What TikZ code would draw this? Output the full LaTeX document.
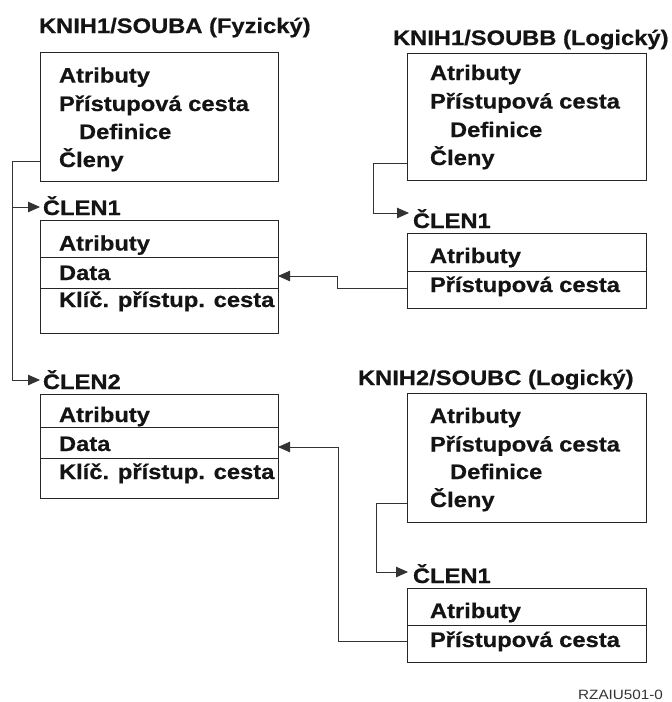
\documentclass[tikz,border=0pt]{standalone}
\usepackage{fontspec}
\setmainfont{Liberation Sans}[FakeStretch=1.13, BoldFeatures={FakeBold=0.6}]
\usetikzlibrary{arrows.meta}
\begin{document}
\begin{tikzpicture}[x=1pt,y=-1pt,
  frame/.style={draw=black!85, line width=0.9pt, anchor=north west,
    inner sep=0pt, outer sep=0pt},
  rule/.style={draw=black!85, line width=0.9pt},
  lbl/.style={anchor=base west, inner sep=0pt, outer sep=0pt,
    font=\fontsize{21}{21}\selectfont\bfseries, text=black!92},
  link/.style={draw=black!80, line width=0.9pt},
  tip/.style={-{Triangle[length=12pt,width=10.5pt]}},
  tag/.style={anchor=base west, inner sep=0pt,
    font=\fontsize{13.5}{13.5}\selectfont, text=black!80}]
\useasboundingbox (0,0) rectangle (672,702);

% ---------- KNIH1/SOUBA (physical file) ----------
\node[lbl] (titleA) at (39,33) {KNIH1/SOUBA (Fyzický)};
\node[frame, minimum width=238pt, minimum height=129pt] (fileA) at (40,52) {};
\node[lbl] (attrA) at (59,82.6) {Atributy};
\node[lbl] (pathA) at (59,111) {Přístupová cesta};
\node[lbl] (defA)  at (79,139) {Definice};
\node[lbl] (membA) at (59,167) {Členy};

% member 1
\node[lbl] (nameA1) at (43,215) {ČLEN1};
\node[frame, minimum width=238pt, minimum height=113pt] (memA1) at (40,220) {};
\draw[rule] ([yshift=-37pt]memA1.north west) -- ([yshift=-37pt]memA1.north east);
\draw[rule] ([yshift=-68pt]memA1.north west) -- ([yshift=-68pt]memA1.north east);
\node[lbl] (attrA1) at (59,250.5) {Atributy};
\node[lbl] (dataA1) at (59,280) {Data};
\node[lbl] (keyA1)  at (59,307) {Klíč. přístup. cesta};

% member 2
\node[lbl] (nameA2) at (43,389) {ČLEN2};
\node[frame, minimum width=238pt, minimum height=104pt] (memA2) at (40,394) {};
\draw[rule] ([yshift=-33pt]memA2.north west) -- ([yshift=-33pt]memA2.north east);
\draw[rule] ([yshift=-64pt]memA2.north west) -- ([yshift=-64pt]memA2.north east);
\node[lbl] (attrA2) at (59,422) {Atributy};
\node[lbl] (dataA2) at (59,451) {Data};
\node[lbl] (keyA2)  at (59,479) {Klíč. přístup. cesta};

% ---------- KNIH1/SOUBB (logical file) ----------
\node[lbl] (titleB) at (393,45) {KNIH1/SOUBB (Logický)};
\node[frame, minimum width=239pt, minimum height=127pt] (fileB) at (407,53) {};
\node[lbl] (attrB) at (430,80) {Atributy};
\node[lbl] (pathB) at (430,108.5) {Přístupová cesta};
\node[lbl] (defB)  at (450,137) {Definice};
\node[lbl] (membB) at (430,165) {Členy};

\node[lbl] (nameB1) at (413,228) {ČLEN1};
\node[frame, minimum width=239pt, minimum height=75pt] (memB1) at (407,233) {};
\draw[rule] ([yshift=-38pt]memB1.north west) -- ([yshift=-38pt]memB1.north east);
\node[lbl] (attrB1) at (430,263) {Atributy};
\node[lbl] (pathB1) at (430,292) {Přístupová cesta};

% ---------- KNIH2/SOUBC (logical file) ----------
\node[lbl] (titleC) at (358,385) {KNIH2/SOUBC (Logický)};
\node[frame, minimum width=239pt, minimum height=129pt] (fileC) at (407,393) {};
\node[lbl] (attrC) at (430,423) {Atributy};
\node[lbl] (pathC) at (430,451.5) {Přístupová cesta};
\node[lbl] (defC)  at (450,479) {Definice};
\node[lbl] (membC) at (430,507) {Členy};

\node[lbl] (nameC1) at (413,583) {ČLEN1};
\node[frame, minimum width=239pt, minimum height=74pt] (memC1) at (407,588) {};
\draw[rule] ([yshift=-37pt]memC1.north west) -- ([yshift=-37pt]memC1.north east);
\node[lbl] (attrC1) at (430,618) {Atributy};
\node[lbl] (pathC1) at (430,647) {Přístupová cesta};

% ---------- connectors ----------
% members of SOUBA
\coordinate (inA1) at ([yshift=13pt]memA1.north west);
\draw[link,tip] ([yshift=20pt]fileA.south west) -- ++(-28,0) coordinate (busA)
  |- ([yshift=14pt]memA2.north west);
\draw[link,tip] (busA |- inA1) -- (inA1);

% members of SOUBB and SOUBC
\draw[link,tip] ([yshift=17pt]fileB.south west) -- ++(-34,0)
  |- ([xshift=2pt,yshift=20pt]memB1.north west);
\draw[link,tip] ([yshift=19pt]fileC.south west) -- ++(-31,0)
  |- ([xshift=1pt,yshift=16pt]memC1.north west);

% access paths pointing at the physical data
\draw[link,tip] ([yshift=20pt]memB1.south west) -- ++(-70,0)
  |- ([yshift=-56pt]memA1.north east);
\draw[link,tip] ([yshift=21pt]memC1.south west) -- ++(-69,0)
  |- ([yshift=-53pt]memA2.north east);

\node[tag] (figid) at (578,699) {RZAIU501-0};
\end{tikzpicture}
\end{document}
